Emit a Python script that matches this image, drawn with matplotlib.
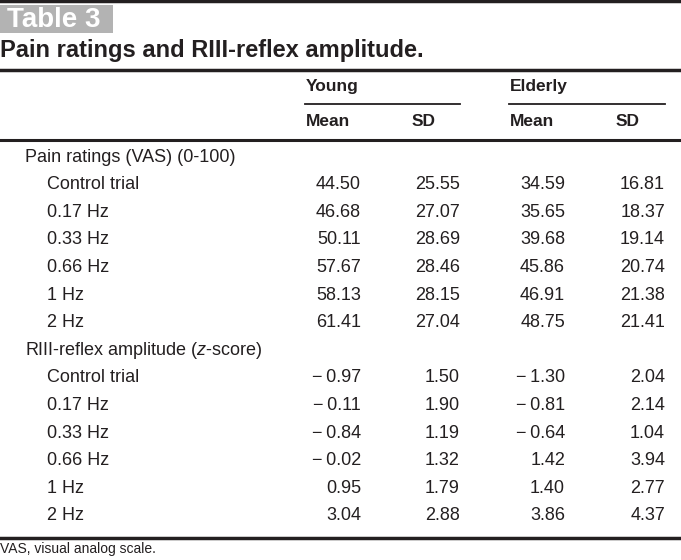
import matplotlib
matplotlib.use("Agg")
import matplotlib.pyplot as plt

# table content
title = "Pain ratings and RIII-reflex amplitude."
groups = ["Young", "Elderly"]
stat_labels = ["Mean", "SD"]

section_labels = ["Pain ratings (VAS) (0-100)", "RIII-reflex amplitude ($z$-score)"]
conditions = ["Control trial", "0.17 Hz", "0.33 Hz", "0.66 Hz", "1 Hz", "2 Hz"]

pain_young_mean = ["44.50", "46.68", "50.11", "57.67", "58.13", "61.41"]
pain_young_sd = ["25.55", "27.07", "28.69", "28.46", "28.15", "27.04"]
pain_elderly_mean = ["34.59", "35.65", "39.68", "45.86", "46.91", "48.75"]
pain_elderly_sd = ["16.81", "18.37", "19.14", "20.74", "21.38", "21.41"]

riii_young_mean = ["\u2212\u20090.97", "\u2212\u20090.11", "\u2212\u20090.84", "\u2212\u20090.02", "0.95", "3.04"]
riii_young_sd = ["1.50", "1.90", "1.19", "1.32", "1.79", "2.88"]
riii_elderly_mean = ["\u2212\u20091.30", "\u2212\u20090.81", "\u2212\u20090.64", "1.42", "1.40", "3.86"]
riii_elderly_sd = ["2.04", "2.14", "1.04", "3.94", "2.77", "4.37"]

footnote = "VAS, visual analog scale."

plt.rcParams["font.family"] = ["Liberation Sans", "DejaVu Sans"]
plt.rcParams["mathtext.fontset"] = "custom"
plt.rcParams["mathtext.rm"] = "Liberation Sans"
plt.rcParams["mathtext.it"] = "Liberation Sans:italic"
ink = "#231f20"

fig = plt.figure(figsize=(6.81, 5.6), dpi=100)
ax = fig.add_axes([0, 0, 1, 1])
ax.set_xlim(0, 681)
ax.set_ylim(560, 0)
ax.axis("off")

# rules
ax.plot([0, 681], [1, 1], color=ink, lw=2.5)
ax.plot([0, 681], [70, 70], color=ink, lw=2.5)
ax.plot([0, 681], [140, 140], color=ink, lw=2.2)
ax.plot([0, 681], [538, 538], color=ink, lw=2.5)
ax.plot([305, 460], [104, 104], color=ink, lw=1.3)
ax.plot([509, 665], [104, 104], color=ink, lw=1.3)

# "Table 3" tab
ax.add_patch(plt.Rectangle((0, 5), 113, 28, color="#b3b3b3", lw=0))
ax.text(7, 20, "Table 3", color="white", fontsize=20, fontweight="bold",
        va="center", ha="left")

ax.text(0, 51, title, color=ink, fontsize=17, fontweight="bold",
        va="center", ha="left")

# headers
hdr = dict(color=ink, fontsize=12.5, fontweight="bold", va="center")
ax.text(306, 86, groups[0], ha="left", **hdr)
ax.text(510, 86, groups[1], ha="left", **hdr)
ax.text(306, 121, stat_labels[0], ha="left", **hdr)
ax.text(412, 121, stat_labels[1], ha="left", **hdr)
ax.text(510, 121, stat_labels[0], ha="left", **hdr)
ax.text(616, 121, stat_labels[1], ha="left", **hdr)

body = dict(color=ink, fontsize=13, va="center")
col_right = [361, 460, 565, 665]
row_h = 27.6


def draw_section(y0, label, cols):
    ax.text(25, y0, label, ha="left", **body)
    for i, cond in enumerate(conditions):
        y = y0 + (i + 1) * row_h
        ax.text(47, y, cond, ha="left", **body)
        for x, col in zip(col_right, cols):
            ax.text(x, y, col[i], ha="right", **body)


draw_section(157, section_labels[0],
             [pain_young_mean, pain_young_sd, pain_elderly_mean, pain_elderly_sd])
draw_section(157 + 7 * row_h, section_labels[1],
             [riii_young_mean, riii_young_sd, riii_elderly_mean, riii_elderly_sd])

ax.text(0, 549, footnote, ha="left", color=ink, fontsize=10, va="center")

fig.savefig("out.png", dpi=100)
